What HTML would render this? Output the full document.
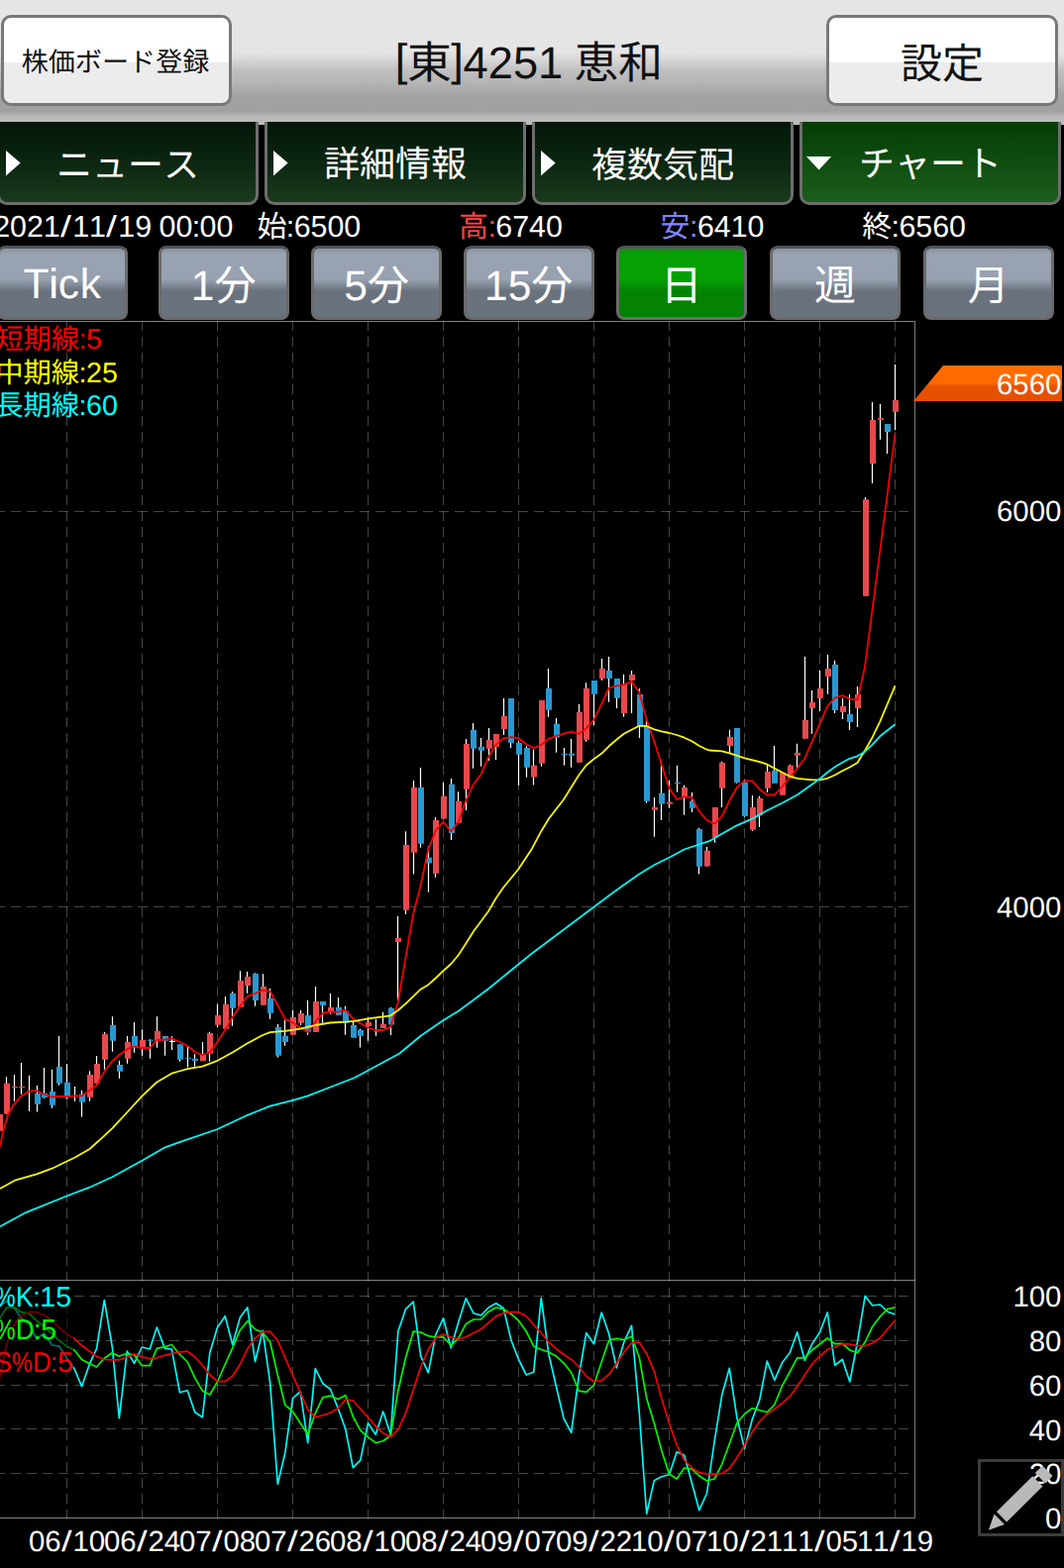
<!DOCTYPE html>
<html lang="ja"><head><meta charset="utf-8"><title>[東]4251 恵和 チャート</title>
<style>
html,body{margin:0;padding:0;background:#000}
body{width:1074px;height:1583px;position:relative;overflow:hidden;font-family:"Liberation Sans","Noto Sans CJK JP",sans-serif;color:#fff;font-kerning:none;text-rendering:geometricPrecision}
.abs,.t,.hdr,.wbtn,.tab,.tf,.chart{position:absolute}
.t{white-space:nowrap}
.t.k{color:#111}
.cj{overflow:visible;font-family:"Liberation Sans","Noto Sans CJK JP",sans-serif}
.sx{display:inline-block;transform-origin:0 50%;white-space:nowrap;text-align:left}
.hdr{left:0;top:0;width:1074px;height:126px;background:linear-gradient(to bottom,#e5e5e5 0,#e5e5e5 52px,#d8d8d8 60px,#c0c0c0 71px,#b4b4b4 84px,#a2a2a2 98px,#a0a0a0 112px,#b8b8b8 117px,#bcbcbc 123px,#bcbcbc 126px)}
.wbtn{border:3px solid #787878;border-radius:10px;background:linear-gradient(to bottom,#fff 0,#fff 52.5%,#ececec 52.5%,#ececec 100%)}
.tab{top:123px;width:257.6px;height:80.7px;border:3px solid #6e6e6e;border-top:0;border-radius:0 0 10px 10px;background:linear-gradient(to bottom,#03170a 0,#0a2410 45%,#1a3a1c 100%)}
.tab.sel{background:linear-gradient(to bottom,#053d05 0,#0f4d10 50%,#1b5e1b 100%)}
.tf{top:247.9px;width:125.9px;height:69px;border:3px solid #6b6b6b;border-top-color:#50555b;border-radius:8px;background:linear-gradient(to bottom,#8a93a0 0,#98a2b0 8%,#97a1af 45%,#6a727e 62%,#6a727e 100%)}
.tf.sel{background:linear-gradient(to bottom,#1a8a1a 0,#04a004 8%,#04a004 45%,#048204 62%,#048204 100%)}
.chart{left:0;top:323px}
</style></head>
<body>
<svg class="chart" width="1074" height="1260" viewBox="0 323 1074 1260"><line x1="67.5" y1="324" x2="67.5" y2="1533" stroke="#fff" stroke-opacity=".27" stroke-dasharray="10 6"/><line x1="143.5" y1="324" x2="143.5" y2="1533" stroke="#fff" stroke-opacity=".27" stroke-dasharray="10 6"/><line x1="219.5" y1="324" x2="219.5" y2="1533" stroke="#fff" stroke-opacity=".27" stroke-dasharray="10 6"/><line x1="295.5" y1="324" x2="295.5" y2="1533" stroke="#fff" stroke-opacity=".27" stroke-dasharray="10 6"/><line x1="371.5" y1="324" x2="371.5" y2="1533" stroke="#fff" stroke-opacity=".27" stroke-dasharray="10 6"/><line x1="447.5" y1="324" x2="447.5" y2="1533" stroke="#fff" stroke-opacity=".27" stroke-dasharray="10 6"/><line x1="523.5" y1="324" x2="523.5" y2="1533" stroke="#fff" stroke-opacity=".27" stroke-dasharray="10 6"/><line x1="599.5" y1="324" x2="599.5" y2="1533" stroke="#fff" stroke-opacity=".27" stroke-dasharray="10 6"/><line x1="675.5" y1="324" x2="675.5" y2="1533" stroke="#fff" stroke-opacity=".27" stroke-dasharray="10 6"/><line x1="751.5" y1="324" x2="751.5" y2="1533" stroke="#fff" stroke-opacity=".27" stroke-dasharray="10 6"/><line x1="827.5" y1="324" x2="827.5" y2="1533" stroke="#fff" stroke-opacity=".27" stroke-dasharray="10 6"/><line x1="903.5" y1="324" x2="903.5" y2="1533" stroke="#fff" stroke-opacity=".27" stroke-dasharray="10 6"/><line x1="0" y1="516.5" x2="923" y2="516.5" stroke="#fff" stroke-opacity=".27" stroke-dasharray="10 6" stroke-dashoffset="5"/><line x1="0" y1="915.5" x2="923" y2="915.5" stroke="#fff" stroke-opacity=".27" stroke-dasharray="10 6" stroke-dashoffset="5"/><line x1="0" y1="1308.5" x2="923" y2="1308.5" stroke="#fff" stroke-opacity=".27" stroke-dasharray="10 6" stroke-dashoffset="5"/><line x1="0" y1="1353.5" x2="923" y2="1353.5" stroke="#fff" stroke-opacity=".27" stroke-dasharray="10 6" stroke-dashoffset="5"/><line x1="0" y1="1398.5" x2="923" y2="1398.5" stroke="#fff" stroke-opacity=".27" stroke-dasharray="10 6" stroke-dashoffset="5"/><line x1="0" y1="1442.5" x2="923" y2="1442.5" stroke="#fff" stroke-opacity=".27" stroke-dasharray="10 6" stroke-dashoffset="5"/><line x1="0" y1="1487.5" x2="923" y2="1487.5" stroke="#fff" stroke-opacity=".27" stroke-dasharray="10 6" stroke-dashoffset="5"/><path d="M0 324.5H923.5V1532.5H0M0 1292.5H923.5" fill="none" stroke="#fff" stroke-opacity=".5"/><path d="M-0.5 1125V1141.7M6.5 1087V1124.7M14.5 1085V1111.7M21.5 1073V1104.7M29.5 1085.8V1121.7M37.5 1095.8V1122.5M44.5 1078V1108.8M52.5 1079.7V1118.7M59.5 1046V1095.8M67.5 1074V1109.5M75.5 1097V1111.7M82.5 1100.8V1127.5M90.5 1081.2V1111.7M97.5 1066V1093.8M105.5 1042V1079.7M113.5 1026.2V1061.7M120.5 1070.8V1088.7M128.5 1046V1073.8M135.5 1032V1062.7M143.5 1039.2V1065.8M151.5 1049.2V1068.8M158.5 1026.2V1057.8M166.5 1046V1065.8M173.5 1046V1060M171 1051.3h6M181.5 1054.2V1071.7M189.5 1055V1077.5M196.5 1064.2V1076.7M204.5 1052V1070.8M211.5 1041.7V1071.7M219.5 1013.8V1037M227.5 1006V1039.7M234.5 1001V1035.8M242.5 980.2V1016.7M249.5 981V1002.8M257.5 982.2V1015.8M265.5 983.2V1014.7M272.5 998V1028.7M280.5 1033.8V1067.5M287.5 1030V1055.8M295.5 1020V1044.7M303.5 1020V1034.7M310.5 1010V1044.7M318.5 996V1042M325.5 1011V1032.8M333.5 1003V1023.7M341.5 1007V1025M348.5 1015.8V1044.7M356.5 1030.2V1047.7M363.5 1038.7V1057.5M371.5 1026.7V1050.8M379.5 1028.7V1045.8M386.5 1021.7V1038M394.5 1016.7V1045M401.5 925V1010M409.5 839.2V923M417.5 788V882.5M424.5 775V855.8M432.5 854.2V900.8M439.5 825V885.8M447.5 790V826.7M455.5 786V848M462.5 799.2V830.8M470.5 746V818M477.5 730V775.8M485.5 745V773.8M493.5 735V768M500.5 741V767M508.5 705V742M515.5 705V755M523.5 748.3V793M531.5 753V784.7M538.5 756.7V792.5M546.5 707V773.8M553.5 675V723.8M561.5 725V759.7M569.5 755V772.8M576.5 746V774.7M584.5 711V769.8M591.5 689.2V748.8M599.5 687V732M607.5 665V687M614.5 663V708.8M622.5 685V715M629.5 680.8V723.8M637.5 677V720M645.5 695V745M652.5 728V810.8M660.5 805V844.7M667.5 768V828M675.5 787.8V815.8M683.5 772.8V799.7M690.5 792.8V822.8M698.5 800V820M705.5 835.8V882.5M713.5 855V874.7M721.5 815V850.8M728.5 768.7V815M736.5 736.7V760M743.5 735V790.8M751.5 786.7V824.7M759.5 803V838.7M766.5 803.8V835M774.5 771.7V800M781.5 753V790.8M789.5 780V802.8M797.5 771.7V785.8M804.5 750.8V775M812.5 663V745.8M819.5 697V740.8M827.5 677V718M835.5 661V700.8M842.5 666.7V720M850.5 705V726M857.5 701V737M865.5 693V734M873.5 502V601.7M880.5 406V488M888.5 408V443.8M895.5 428V458M903.5 368V434.2" stroke="#fff" stroke-width="1.2" fill="none"/><path d="M-3 1125h6v16.7h-6zM4 1093.8h6v30.8h-6zM12 1097h6v1h-6zM19 1097h6v1h-6zM27 1101.3h6v1h-6zM73 1106.3h6v1h-6zM88 1085h6v22.7h-6zM95 1074h6v19.8h-6zM103 1044h6v25.7h-6zM126 1052h6v16.8h-6zM141 1050h6v8.3h-6zM156 1041h6v9.8h-6zM202 1064.2h6v6.7h-6zM209 1043h6v20.7h-6zM217 1025h6v9.7h-6zM225 1014h6v24.7h-6zM240 990h6v26.7h-6zM247 986h6v9h-6zM263 996h6v18.7h-6zM293 1027h6v17.7h-6zM301 1023h6v9.8h-6zM316 1011h6v31h-6zM331 1017h6v4.7h-6zM369 1031.7h6v4.2h-6zM377 1040.5h6v1h-6zM384 1033.8h6v4.2h-6zM399 946.7h6v4.2h-6zM407 853h6v65.8h-6zM415 795h6v65.8h-6zM437 828h6v53.7h-6zM445 803.8h6v22.8h-6zM460 808.8h6v22h-6zM468 751h6v45.7h-6zM491 747h6v8.8h-6zM498 741h6v12.8h-6zM506 723h6v13h-6zM536 772.8h6v11.8h-6zM544 707h6v63.8h-6zM582 719h6v50.8h-6zM589 695h6v51.7h-6zM605 675h6v10h-6zM627 691h6v29h-6zM635 681h6v6h-6zM658 815h6v2.7h-6zM673 809.8h6v2h-6zM688 795h6v9.2h-6zM711 858.8h6v15.8h-6zM719 815h6v30.8h-6zM726 770h6v25.8h-6zM734 744h6v9h-6zM757 815h6v22.8h-6zM764 805.8h6v17.5h-6zM772 779h6v16.8h-6zM787 780h6v22.8h-6zM795 772.8h6v13h-6zM802 760h6v2.8h-6zM810 727h6v18.8h-6zM817 709h6v6h-6zM825 695h6v10h-6zM833 675h6v8h-6zM848 713h6v6h-6zM863 701h6v14h-6zM871 504.2h6v97.5h-6zM878 424h6v44h-6zM886 422h6v1.7h-6zM901 404h6v11.8h-6z" fill="#e8484c"/><path d="M35 1103.7h6v11h-6zM42 1103.7h6v4.3h-6zM50 1102h6v13.8h-6zM57 1077h6v16.7h-6zM65 1092.8h6v13.8h-6zM80 1104.7h6v8h-6zM111 1035h6v15.8h-6zM118 1075h6v6.8h-6zM133 1046h6v10.7h-6zM149 1049.7h6v1h-6zM164 1046h6v4.8h-6zM179 1054.2h6v15.5h-6zM187 1067.8h6v1h-6zM194 1068.7h6v2.2h-6zM232 1003h6v14.8h-6zM255 983h6v27h-6zM270 1008h6v14.8h-6zM278 1037h6v28.8h-6zM285 1045.8h6v6.2h-6zM308 1025h6v16.7h-6zM323 1011h6v4h-6zM339 1017h6v7.7h-6zM346 1020.8h6v12h-6zM354 1035h6v12.7h-6zM361 1040h6v5.8h-6zM392 1017.8h6v16.8h-6zM422 795h6v56.7h-6zM430 865.8h6v5.8h-6zM453 791.7h6v49.2h-6zM475 737h6v18.8h-6zM483 754h6v3.8h-6zM513 705h6v45h-6zM521 750h6v11.8h-6zM529 755h6v19.7h-6zM551 695h6v21.7h-6zM559 730.8h6v13.8h-6zM567 761h6v1h-6zM574 760.8h6v2h-6zM597 687h6v13.8h-6zM612 677h6v8h-6zM620 685h6v19.7h-6zM643 701h6v32h-6zM650 733h6v75.8h-6zM665 800.8h6v10.8h-6zM681 790h6v1h-6zM696 808.8h6v7h-6zM703 837h6v37.7h-6zM741 735h6v55h-6zM749 789.7h6v34.2h-6zM779 778h6v12.8h-6zM840 671h6v46h-6zM855 721h6v8h-6zM893 428h6v8h-6z" fill="#2998d0"/><polyline points="0,1157.5 3.3,1141.7 8.3,1125 13.3,1115.8 21.3,1106.7 29.3,1101.7 37,1101.2 44.3,1104.7 52.5,1107.5 59.7,1106.7 67.3,1107.2 75.3,1106.3 82.5,1106.3 90.5,1100.8 97.5,1095.8 105.3,1081.7 113.3,1071.3 120.3,1065 128.3,1059.2 135.5,1056.3 143.3,1058 151.2,1058 158.3,1050 166.3,1049.5 173.3,1048.3 181.5,1052 189.2,1055.8 196.7,1062 204.3,1065 211.8,1062.5 219.5,1051.7 227.2,1040 234.7,1026.7 242.3,1015.8 249.8,1005.8 257.5,1003 265.2,999.7 272.7,1000.8 280.3,1015 287.8,1028.7 295.5,1032.5 303.2,1037.5 310.7,1041.7 318.3,1031.7 325.8,1023 333.5,1021.3 341.2,1021.7 348.7,1019.7 356.3,1028.3 363.8,1033.3 371.5,1037.5 379.2,1040 386.7,1040 394.3,1036.7 401.8,1011.7 409.5,966.7 417.2,922.5 424.7,893.3 432.3,857.5 439.8,838.3 447.5,829.7 455.2,839.2 462.7,830 470.3,808.3 478,791.7 485.5,781.7 493.2,764.2 500.7,751.7 508.3,745.3 516,744.2 523.5,745.3 531.2,751.3 538.7,755.3 546.3,752 553.8,745.8 561.5,743 569.2,740.7 576.7,738.7 584.3,740.8 591.8,735.3 599.5,726.7 607.2,710.8 614.7,694.5 622.3,692.5 629.8,691.2 637.5,688 645.2,698.7 652.7,726.7 660.3,748.3 667.8,771.7 675.5,795.8 683.2,807 690.7,804.5 698.3,805 705.8,819.2 713.5,828 721.2,831.7 728.7,824.2 736.3,808.3 743.8,795 751.5,788.3 759.2,788.3 766.7,796.7 774.3,802.5 781.8,802.5 789.5,794.2 797.2,784.7 804.7,775.8 812.3,765.8 819.8,748.3 827.5,730.8 835.2,713 842.7,704.7 850.3,702 857.8,705.8 865.5,706.7 873.1,672.8 880.7,614.2 888.3,556 895.9,497.4 903.5,438" fill="none" stroke="#f80000" stroke-width="1.8" stroke-linejoin="round"/><polyline points="0,1200 15,1191.7 37,1185.3 52.5,1179.7 67.3,1172.5 75.3,1168.8 90.5,1160 105.3,1146.7 113.3,1139.2 128.3,1123 143.3,1106.7 158.3,1092.5 173.3,1083.7 179,1082 189.2,1079.2 204.3,1076.7 219.5,1070.8 234.7,1062.5 249.8,1053.3 265.2,1045 272.7,1042.2 287.8,1040.8 303.2,1038.7 318.3,1035 333.5,1032.5 348.7,1031.7 358,1030.8 371.5,1028.3 386.7,1026.3 394.3,1025.3 401.8,1020 409.5,1013.3 417.2,1005.8 424.7,998.7 432.3,994.2 439.8,987.5 447.5,980 455.2,973.3 462.7,964.2 470.3,952.5 478,940.3 493,920 500.7,906.7 508.3,895.8 523.3,877.5 537,856.7 546.3,839.2 553.8,826.7 569.2,806.7 584.3,782.5 591.8,772.5 599.5,766.2 607.2,760.8 614.7,753.3 622.3,746.7 629.8,740.8 637.5,736.7 645.2,732.8 652.7,733 660.3,736.3 667.8,738.3 675.5,740 683.2,742 690.7,744.7 698.3,748.3 705.8,753 713.5,756.7 716,757.5 728.7,758.3 736.3,760.3 751.5,765.3 766.7,769.2 774.3,771.7 781.8,775.8 789.5,779.7 797.2,783.7 804.7,785.8 812.3,786.7 819.8,787.3 827.5,787.3 835.2,785.8 842.7,782.5 850.3,778.3 857.8,774.5 865.5,770 873.2,757.5 880.7,744.2 888.3,728.3 903.5,692.4" fill="none" stroke="#f8f800" stroke-width="1.8" stroke-linejoin="round"/><polyline points="0,1238.2 26.7,1223.8 67.3,1207.5 90.5,1198.7 113.3,1188.3 143.3,1171.7 166.7,1158.3 179,1153.8 219.5,1140 249.8,1125.8 272.7,1116.7 295.5,1110.8 310.7,1106.3 333.5,1097.5 358,1088 403,1063.8 424.7,1045.8 447.5,1030 462.7,1020.8 493,998.3 516.3,979.2 537,962.5 615.3,903.8 629.8,893.3 645.2,882.5 660.3,873.3 675.5,865.8 690.7,857.5 705.8,852.5 716,849.2 728.7,841.7 743.8,833.3 759.2,826.7 774.3,818.3 789.5,810.8 804.7,802.5 819.8,791.7 827.5,786.3 835.2,779.7 842.7,774.2 850.3,769.7 857.8,765.8 865.5,763.3 873.2,758.7 880.7,751.7 888.3,743.3 903.5,731.2" fill="none" stroke="#00f8f8" stroke-width="1.8" stroke-linejoin="round"/><polyline points="-0.8,1319.2 6.7,1313.3 14.7,1320.8 21.3,1330.8 29.3,1336.7 37,1352 44.3,1345.8 52.5,1358 59.7,1359.2 67.3,1370.8 75.3,1382.5 82.5,1399.7 90.5,1376.7 97.5,1361.7 105.3,1312.5 113.3,1360 120.3,1431.7 128.3,1364.2 135.5,1376.3 143.3,1360 151.2,1362 158.3,1340 166.3,1361.3 173.3,1362 181.5,1405.8 189.2,1403.7 196.7,1425.8 204.3,1430.8 211.8,1365.8 219.5,1340 227.2,1328.7 234.7,1357.5 242.3,1330 249.8,1320 257.5,1374.7 265.2,1343.3 272.7,1396.7 280.3,1498.3 287.8,1466.7 295.5,1411.7 303.2,1405 310.7,1456.7 318.3,1381.7 325.8,1396.7 333.5,1402.5 341.2,1421.7 348.7,1442.5 356.3,1481.7 363.8,1474.2 371.5,1436.7 379.2,1448.3 386.7,1425 394.3,1448.3 401.8,1344.2 409.5,1321.7 417.2,1314.2 424.7,1369.2 432.3,1385.8 439.8,1347.5 447.5,1330.8 455.2,1360.8 462.7,1335 470.3,1310.8 478,1325.8 485.5,1328 493.2,1320 500.7,1315.8 508.3,1320.8 516,1353.3 523.5,1372.5 531.2,1388 538.7,1385.3 546.3,1310.3 553.8,1366.7 561.5,1400 569.2,1432.5 576.7,1446.3 584.3,1389.2 591.8,1345.8 599.5,1356.7 607.2,1325 614.7,1346.7 622.3,1380.8 629.8,1355 637.5,1338.3 645.2,1425 652.7,1528.3 660.3,1494.7 667.8,1490.8 675.5,1488.7 683.2,1465.8 690.7,1469.2 698.3,1496.7 705.8,1524.7 713.5,1507.5 721.2,1455 728.7,1408.3 736.3,1381.3 743.8,1430.8 751.5,1462.5 759.2,1433.3 766.7,1413.3 774.3,1374.2 781.8,1393.3 789.5,1375.8 797.2,1365.8 804.7,1345 812.3,1373.3 819.8,1356.7 827.5,1345 835.2,1325 842.7,1378.3 850.3,1372.5 857.8,1395 865.5,1355 873.2,1308.3 880.7,1318 888.3,1317 895.8,1324.2 903.5,1327" fill="none" stroke="#00f8f8" stroke-width="1.7" stroke-linejoin="round"/><polyline points="-0.8,1331.7 6.7,1320 14.7,1320 21.3,1324.7 29.3,1325.8 37,1333.3 44.3,1339.2 52.5,1346.7 59.7,1353.3 67.3,1359.2 75.3,1363.3 82.5,1372.5 90.5,1376.7 97.5,1380 105.3,1371.3 113.3,1365.8 120.3,1369.2 128.3,1366.3 135.5,1368 143.3,1378.7 151.2,1378.7 158.3,1361.3 166.3,1359.7 173.3,1357.5 181.5,1367.5 189.2,1375 196.7,1390.8 204.3,1404.2 211.8,1408 219.5,1395 227.2,1377.5 234.7,1360.8 242.3,1343 249.8,1333.7 257.5,1342 265.2,1345.3 272.7,1355 280.3,1388.3 287.8,1418.3 295.5,1425 303.2,1436.7 310.7,1448.3 318.3,1426.7 325.8,1410.8 333.5,1409.2 341.2,1412.5 348.7,1408.7 356.3,1430 363.8,1444.2 371.5,1450.8 379.2,1456.7 386.7,1454.7 394.3,1449.2 401.8,1404.2 409.5,1370.8 417.2,1344.2 424.7,1345 432.3,1348.7 439.8,1350 447.5,1349.7 455.2,1358.3 462.7,1350.8 470.3,1336.7 478,1332 485.5,1332 493.2,1324.2 500.7,1320 508.3,1321.7 516,1326.7 523.5,1333.3 531.2,1344.2 538.7,1359.2 546.3,1362.5 553.8,1365 561.5,1369.2 569.2,1376.3 576.7,1385.8 584.3,1404.2 591.8,1405.3 599.5,1398.3 607.2,1375 614.7,1353 622.3,1351.3 629.8,1352.5 637.5,1349.2 645.2,1370 652.7,1411.7 660.3,1436.7 667.8,1464.2 675.5,1488.3 683.2,1493 690.7,1482 698.3,1483 705.8,1490 713.5,1495 721.2,1493 728.7,1478.3 736.3,1457.5 743.8,1436.7 751.5,1427.5 759.2,1421.7 766.7,1423.7 774.3,1425.8 781.8,1418 789.5,1399.2 797.2,1385 804.7,1370.8 812.3,1370.8 819.8,1363 827.5,1357 835.2,1350.8 842.7,1356.7 850.3,1356.3 857.8,1363 865.5,1365.8 873.2,1355 880.7,1339.2 888.3,1329.2 895.8,1321.7 903.5,1320" fill="none" stroke="#00f800" stroke-width="1.7" stroke-linejoin="round"/><polyline points="-0.8,1393.3 6.7,1356.7 14.7,1336.7 21.3,1328.3 29.3,1324.7 37,1324.7 44.3,1327.5 52.5,1333.3 59.7,1340.3 67.3,1346.7 75.3,1351.7 82.5,1358.3 90.5,1364.2 97.5,1369.2 105.3,1372.5 113.3,1372.8 120.3,1372.8 128.3,1370 135.5,1367 143.3,1369.7 151.2,1371.7 158.3,1370.8 166.3,1368.3 173.3,1366.7 181.5,1365 189.2,1364.2 196.7,1370 204.3,1378.3 211.8,1388 219.5,1394.7 227.2,1394.7 234.7,1389.2 242.3,1377.5 249.8,1361.7 257.5,1350.8 265.2,1344.7 272.7,1344.2 280.3,1353.3 287.8,1370.8 295.5,1388.3 303.2,1405.8 310.7,1423 318.3,1430.8 325.8,1428.7 333.5,1426.3 341.2,1421.7 348.7,1413 356.3,1413.8 363.8,1422.5 371.5,1430.8 379.2,1440 386.7,1446.7 394.3,1450.8 401.8,1443.3 409.5,1426.7 417.2,1403.3 424.7,1380 432.3,1362.5 439.8,1350.8 447.5,1347 455.2,1350 462.7,1352 470.3,1349.7 478,1345.8 485.5,1342 493.2,1335.3 500.7,1328.7 508.3,1325.8 516,1324.7 523.5,1324.7 531.2,1328.7 538.7,1337.5 546.3,1345.8 553.8,1355 561.5,1361.7 569.2,1367.5 576.7,1372.5 584.3,1380 591.8,1389.2 599.5,1394.7 607.2,1393.8 614.7,1387.5 622.3,1376.7 629.8,1365 637.5,1355.8 645.2,1355 652.7,1366.7 660.3,1384.2 667.8,1411.7 675.5,1436.7 683.2,1459.2 690.7,1474.2 698.3,1481.7 705.8,1486.7 713.5,1488 721.2,1488.7 728.7,1487.5 736.3,1482.5 743.8,1471.7 751.5,1459.2 759.2,1445.8 766.7,1435 774.3,1427.5 781.8,1422.5 789.5,1416.7 797.2,1409.7 804.7,1399.7 812.3,1388.3 819.8,1377 827.5,1369.2 835.2,1362.5 842.7,1359.7 850.3,1356.7 857.8,1357 865.5,1358.7 873.2,1358.7 880.7,1355.8 888.3,1350.8 895.8,1341.7 903.5,1333" fill="none" stroke="#f80000" stroke-width="1.7" stroke-linejoin="round"/><rect x="0" y="1293" width="74" height="100" fill="#000" fill-opacity="0.55"/><linearGradient id="og" x1="0" y1="369" x2="0" y2="405" gradientUnits="userSpaceOnUse"><stop offset="0" stop-color="#ff6c00"/><stop offset="0.5" stop-color="#ff6a00"/><stop offset="0.58" stop-color="#e65100"/><stop offset="1" stop-color="#e65000"/></linearGradient><path d="M952 369H1072V405H922z" fill="url(#og)"/><rect x="988.5" y="1474.5" width="84" height="75" fill="none" stroke="#3c3c3c" stroke-width="3"/></svg>
<div class="hdr"></div>
<div class="wbtn" style="left:1px;top:15px;width:227px;height:86px"></div>
<div class="wbtn" style="left:834px;top:15px;width:228px;height:86px"></div>
<div class="t k" id="L0" style="top:45px;font-size:27.43px;line-height:35px;height:35px;left:-3.5px;width:240px;text-align:center;"><span class="cj" style="font-size:27.1px;color:#111">株価ボード登録</span></div>
<div class="t k" id="L1" style="top:37.4px;font-size:42.5px;line-height:55px;height:55px;left:831px;width:240px;text-align:center;"><span class="cj" style="font-size:42px;color:#111">設定</span></div>
<div class="t k" id="L2" style="top:34.5px;font-size:45.29px;line-height:58px;height:58px;left:334px;width:400px;text-align:center;"><span style="margin:0 -0.36px;position:relative;top:-2.82px">[</span><span class="cj" style="font-size:44.75px;color:#111">東</span><span style="margin:0 -0.36px;position:relative;top:-2.82px">]</span>4251<span style="margin:0 -0.74px"> </span><span class="cj" style="font-size:44.75px;color:#111">恵和</span></div>
<div class="tab" style="left:-2.8px"></div>
<svg class="abs" style="left:6.2px;top:152px" width="15" height="26"><path d="M0 0L14.7 12.5L0 25.5z" fill="#fff"/></svg>
<div class="t" id="L3" style="top:143px;font-size:36.43px;line-height:47px;height:47px;left:-1px;width:260px;text-align:center;"><span class="cj" style="font-size:36px;color:#fff">ニュース</span></div>
<div class="tab" style="left:267.2px"></div>
<svg class="abs" style="left:276.2px;top:152px" width="15" height="26"><path d="M0 0L14.7 12.5L0 25.5z" fill="#fff"/></svg>
<div class="t" id="L4" style="top:142px;font-size:36.43px;line-height:47px;height:47px;left:269px;width:260px;text-align:center;"><span class="cj" style="font-size:36px;color:#fff">詳細情報</span></div>
<div class="tab" style="left:537.2px"></div>
<svg class="abs" style="left:546.2px;top:152px" width="15" height="26"><path d="M0 0L14.7 12.5L0 25.5z" fill="#fff"/></svg>
<div class="t" id="L5" style="top:143px;font-size:36.43px;line-height:47px;height:47px;left:539px;width:260px;text-align:center;"><span class="cj" style="font-size:36px;color:#fff">複数気配</span></div>
<div class="tab sel" style="left:807.2px"></div>
<svg class="abs" style="left:814.3px;top:157.6px" width="26" height="14"><path d="M0 0H25.2L12.6 13.6z" fill="#fff"/></svg>
<div class="t" id="L6" style="top:142px;font-size:36.43px;line-height:47px;height:47px;left:809px;width:260px;text-align:center;"><span class="cj" style="font-size:36px;color:#fff">チャート</span></div>
<div class="t" id="L7" style="top:210px;font-size:30.36px;line-height:39px;height:39px;left:-6.8px;">2021<span class="sx" style="width:12.38px;transform:scaleX(1.3)">/</span>11<span class="sx" style="width:12.38px;transform:scaleX(1.3)">/</span>19<span style="margin:0 -0.49px"> </span>00<span style="margin:0 -0.58px">:</span>00</div>
<div class="t" id="L8" style="top:210px;font-size:30.36px;line-height:39px;height:39px;left:259.4px;"><span class="cj" style="font-size:30px;color:#fff">始</span><span style="margin:0 -0.58px">:</span>6500</div>
<div class="t" id="L9" style="top:210px;font-size:30.36px;line-height:39px;height:39px;left:463px;"><span class="cj" style="font-size:30px;color:#ff4444">高</span><span style="color:#ff4444"><span style="margin:0 -0.58px">:</span></span>6740</div>
<div class="t" id="L10" style="top:210px;font-size:30.36px;line-height:39px;height:39px;left:666.6px;"><span class="cj" style="font-size:30px;color:#8484ff">安</span><span style="color:#8484ff"><span style="margin:0 -0.58px">:</span></span>6410</div>
<div class="t" id="L11" style="top:210px;font-size:30.36px;line-height:39px;height:39px;left:870.2px;"><span class="cj" style="font-size:30px;color:#fff">終</span><span style="margin:0 -0.58px">:</span>6560</div>
<div class="tf" style="left:-3px"></div>
<div class="t" id="L12" style="top:259.5px;font-size:42.5px;line-height:55px;height:55px;left:-7.3px;width:140px;text-align:center;"><span style="letter-spacing:-0.9px">T</span><span class="sx" style="width:10.21px;transform:scaleX(1.08)">i</span><span style="letter-spacing:0.73px">c</span>k</div>
<div class="tf" style="left:160px"></div>
<div class="t" id="L13" style="top:260.5px;font-size:42.5px;line-height:55px;height:55px;left:155.7px;width:140px;text-align:center;">1<span class="cj" style="font-size:42px;color:#fff">分</span></div>
<div class="tf" style="left:314.4px"></div>
<div class="t" id="L14" style="top:260.5px;font-size:42.5px;line-height:55px;height:55px;left:310.1px;width:140px;text-align:center;">5<span class="cj" style="font-size:42px;color:#fff">分</span></div>
<div class="tf" style="left:468px"></div>
<div class="t" id="L15" style="top:260.5px;font-size:42.5px;line-height:55px;height:55px;left:463.7px;width:140px;text-align:center;">15<span class="cj" style="font-size:42px;color:#fff">分</span></div>
<div class="tf sel" style="left:622px"></div>
<div class="t" id="L16" style="top:260.5px;font-size:42.5px;line-height:55px;height:55px;left:617.7px;width:140px;text-align:center;"><span class="cj" style="font-size:42px;color:#fff">日</span></div>
<div class="tf" style="left:777.3px"></div>
<div class="t" id="L17" style="top:260.5px;font-size:42.5px;line-height:55px;height:55px;left:773px;width:140px;text-align:center;"><span class="cj" style="font-size:42px;color:#fff">週</span></div>
<div class="tf" style="left:932px"></div>
<div class="t" id="L18" style="top:260.5px;font-size:42.5px;line-height:55px;height:55px;left:927.7px;width:140px;text-align:center;"><span class="cj" style="font-size:42px;color:#fff">月</span></div>
<div class="t" id="L19" style="top:323.6px;font-size:28.64px;line-height:37px;height:37px;left:-4.8px;color:#ff0000;"><span class="cj" style="font-size:28.3px;color:#ff0000">短期線</span><span style="margin:0 -0.55px">:</span>5</div>
<div class="t" id="L20" style="top:357.8px;font-size:28.64px;line-height:37px;height:37px;left:-4.8px;color:#ffff00;"><span class="cj" style="font-size:28.3px;color:#ffff00">中期線</span><span style="margin:0 -0.55px">:</span>25</div>
<div class="t" id="L21" style="top:391px;font-size:28.64px;line-height:37px;height:37px;left:-4.8px;color:#00ffff;"><span class="cj" style="font-size:28.3px;color:#00ffff">長期線</span><span style="margin:0 -0.55px">:</span>60</div>
<div class="t" id="L22" style="top:1291.5px;font-size:28.64px;line-height:37px;height:37px;left:-5px;color:#00ffff;"><span class="sx" style="width:20.73px;transform:scaleX(0.81)">%</span><span class="sx" style="width:17.76px;transform:scaleX(0.93)">K</span><span style="margin:0 -0.55px">:</span>15</div>
<div class="t" id="L23" style="top:1324.7px;font-size:28.64px;line-height:37px;height:37px;left:-5px;color:#00ff00;"><span class="sx" style="width:20.73px;transform:scaleX(0.81)">%</span><span class="sx" style="width:18.57px;transform:scaleX(0.9)">D</span><span style="margin:0 -0.55px">:</span>5</div>
<div class="t" id="L24" style="top:1357.9px;font-size:28.64px;line-height:37px;height:37px;left:-5px;color:#ff0000;"><span class="sx" style="width:16.8px;transform:scaleX(0.88)">S</span><span class="sx" style="width:20.73px;transform:scaleX(0.81)">%</span><span class="sx" style="width:18.57px;transform:scaleX(0.9)">D</span><span style="margin:0 -0.55px">:</span>5</div>
<div class="t" id="L25" style="top:370px;font-size:29.35px;line-height:38px;height:38px;right:2.7px;text-align:right;">6560</div>
<div class="t" id="L26" style="top:498.4px;font-size:29.35px;line-height:38px;height:38px;right:2.7px;text-align:right;">6000</div>
<div class="t" id="L27" style="top:897.5px;font-size:29.35px;line-height:38px;height:38px;right:2.7px;text-align:right;">4000</div>
<div class="t" id="L28" style="top:1291.3px;font-size:29.35px;line-height:38px;height:38px;right:2.6px;text-align:right;">100</div>
<div class="t" id="L29" style="top:1336.3px;font-size:29.35px;line-height:38px;height:38px;right:2.6px;text-align:right;">80</div>
<div class="t" id="L30" style="top:1381.3px;font-size:29.35px;line-height:38px;height:38px;right:2.6px;text-align:right;">60</div>
<div class="t" id="L31" style="top:1426px;font-size:29.35px;line-height:38px;height:38px;right:2.6px;text-align:right;">40</div>
<div class="t" id="L32" style="top:1469.5px;font-size:29.35px;line-height:38px;height:38px;right:2.6px;text-align:right;">20</div>
<div class="t" id="L33" style="top:1515px;font-size:29.35px;line-height:38px;height:38px;right:2.6px;text-align:right;">0</div>
<div class="t" id="L34" style="top:1538px;font-size:29.35px;line-height:38px;height:38px;left:22.5px;width:90px;text-align:center;">06<span class="sx" style="width:11.97px;transform:scaleX(1.3)">/</span>10</div>
<div class="t" id="L35" style="top:1538px;font-size:29.35px;line-height:38px;height:38px;left:98.5px;width:90px;text-align:center;">06<span class="sx" style="width:11.97px;transform:scaleX(1.3)">/</span>24</div>
<div class="t" id="L36" style="top:1538px;font-size:29.35px;line-height:38px;height:38px;left:174.5px;width:90px;text-align:center;">07<span class="sx" style="width:11.97px;transform:scaleX(1.3)">/</span>08</div>
<div class="t" id="L37" style="top:1538px;font-size:29.35px;line-height:38px;height:38px;left:250.5px;width:90px;text-align:center;">07<span class="sx" style="width:11.97px;transform:scaleX(1.3)">/</span>26</div>
<div class="t" id="L38" style="top:1538px;font-size:29.35px;line-height:38px;height:38px;left:326.5px;width:90px;text-align:center;">08<span class="sx" style="width:11.97px;transform:scaleX(1.3)">/</span>10</div>
<div class="t" id="L39" style="top:1538px;font-size:29.35px;line-height:38px;height:38px;left:402.5px;width:90px;text-align:center;">08<span class="sx" style="width:11.97px;transform:scaleX(1.3)">/</span>24</div>
<div class="t" id="L40" style="top:1538px;font-size:29.35px;line-height:38px;height:38px;left:478.5px;width:90px;text-align:center;">09<span class="sx" style="width:11.97px;transform:scaleX(1.3)">/</span>07</div>
<div class="t" id="L41" style="top:1538px;font-size:29.35px;line-height:38px;height:38px;left:554.5px;width:90px;text-align:center;">09<span class="sx" style="width:11.97px;transform:scaleX(1.3)">/</span>22</div>
<div class="t" id="L42" style="top:1538px;font-size:29.35px;line-height:38px;height:38px;left:630.5px;width:90px;text-align:center;">10<span class="sx" style="width:11.97px;transform:scaleX(1.3)">/</span>07</div>
<div class="t" id="L43" style="top:1538px;font-size:29.35px;line-height:38px;height:38px;left:706.5px;width:90px;text-align:center;">10<span class="sx" style="width:11.97px;transform:scaleX(1.3)">/</span>21</div>
<div class="t" id="L44" style="top:1538px;font-size:29.35px;line-height:38px;height:38px;left:782.5px;width:90px;text-align:center;">11<span class="sx" style="width:11.97px;transform:scaleX(1.3)">/</span>05</div>
<div class="t" id="L45" style="top:1538px;font-size:29.35px;line-height:38px;height:38px;left:858.5px;width:90px;text-align:center;">11<span class="sx" style="width:11.97px;transform:scaleX(1.3)">/</span>19</div>
<svg class="chart" width="1074" height="1260" viewBox="0 323 1074 1260"><g fill="#b9b9b9"><path d="M997.9 1544.8L1003.5 1528.5L1014 1539z"/><path d="M1006 1526.2L1042.3 1490.2L1052.5 1500.5L1016.2 1536.6z"/><path d="M1044.8 1487.1L1052.3 1479.8L1062.6 1489.9L1055.1 1497.5z"/></g></svg>
</body></html>
